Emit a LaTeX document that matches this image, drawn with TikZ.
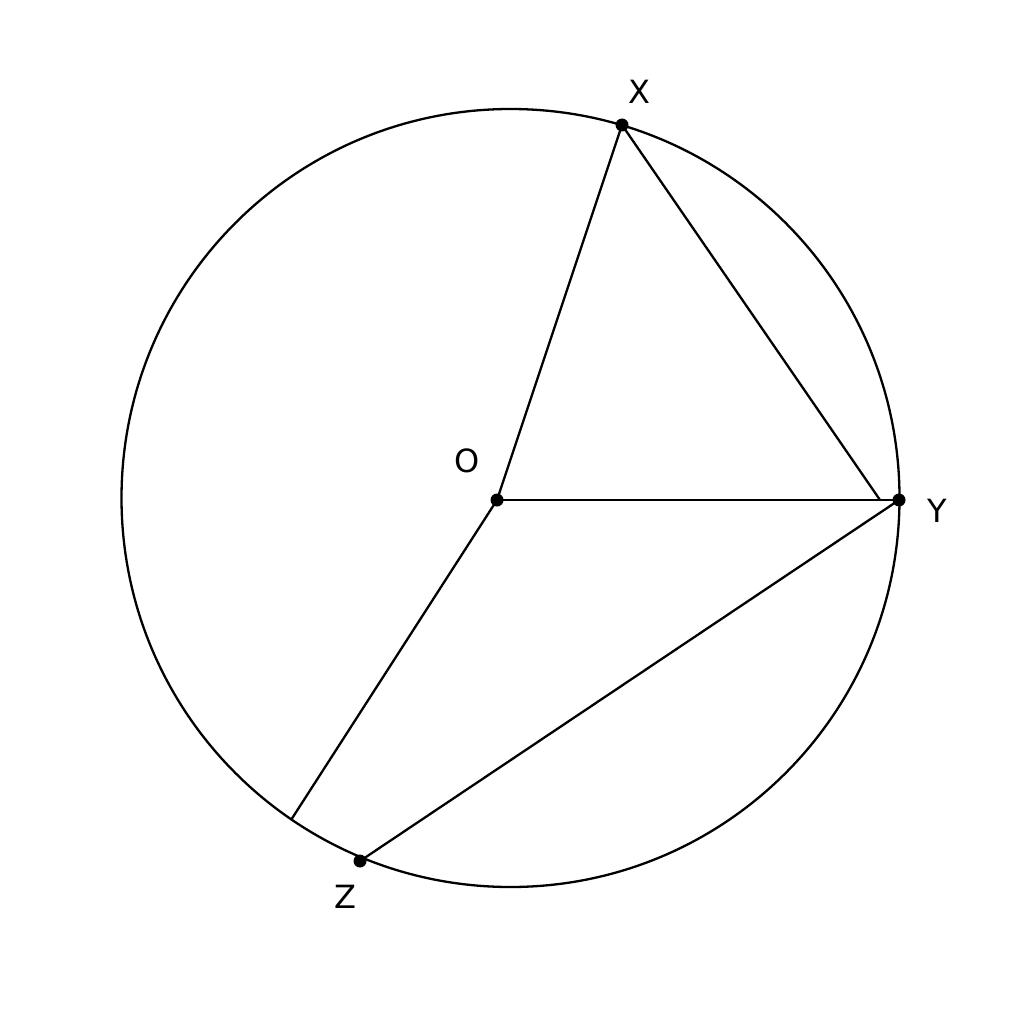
\documentclass[tikz,border=0pt]{standalone}
\usepackage{fontspec}
\setmainfont{DejaVu Sans}
\begin{document}
\begin{tikzpicture}[x=1pt,y=-1pt,
  ln/.style={line width=2.3pt,black},
  dot/.style={circle,fill=black,inner sep=0pt,minimum size=13pt},
  lab/.style={font=\fontsize{32}{38}\selectfont,inner sep=0pt}]
\useasboundingbox[fill=white] (0,0) rectangle (1024,1024);
\coordinate (C) at (510.5,498);
\draw[ln] (C) circle[radius=389];
\node[dot] (O) at (497,500) {};
\node[dot] (X) at (622,125) {};
\node[dot] (Y) at (899,500) {};
\node[dot] (Z) at (360,861) {};
\coordinate (P) at (291,820);
\coordinate (Q) at (880,500);
\draw[ln] (O.center) -- (X.center);
\draw[ln] (X.center) -- (Q);
\draw[ln] (O.center) -- (Y.center);
\draw[ln] (Y.center) -- (Z.center);
\draw[ln] (O.center) -- (P);
\node[lab] (lX) at (639,92) {X};
\node[lab] (lY) at (937,511) {Y};
\node[lab] (lZ) at (345,897) {Z};
\node[lab] (lO) at (467,461) {O};
\end{tikzpicture}
\end{document}
